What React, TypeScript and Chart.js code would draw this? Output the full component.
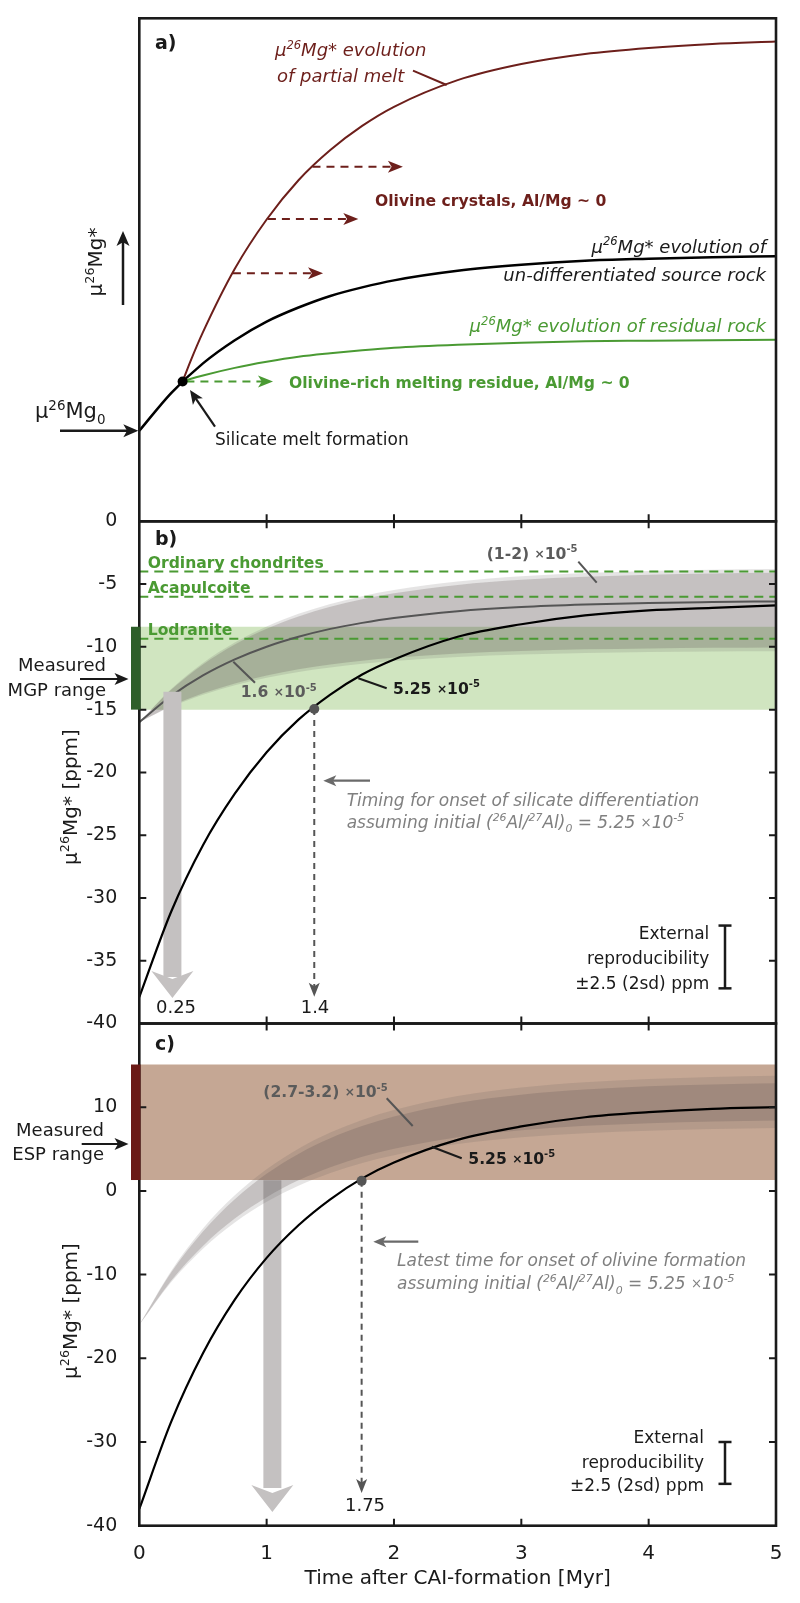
import React, { useEffect, useRef } from 'react';
import { Chart, registerables } from 'chart.js';
Chart.register(...registerables);

const FONT = '"DejaVu Sans", sans-serif';
const INK = '#1a1a1a';
const RED = '#6d1f1b';
const GREEN = '#4a9a33';
const DKGREEN = '#2e5f29';
const LTGREEN = '#d0e5c0';
const BROWN = '#c5a794';
const DKRED = '#6b1a16';
const DKGRAY = '#555555';
const TXTGRAY = '#5b5b5b';
const ITGRAY = '#808080';
const ARROWGRAY = '#c4c1c1';
const BAND_IN = 'rgba(95,85,85,0.24)';
const BAND_OUT = 'rgba(95,85,85,0.16)';

// ---------------- data ----------------
const X_TICK_VALUES = [1, 2, 3, 4];

// panel a (schematic units)
const A_T_SOURCE = [0, 0.25, 0.5, 0.75, 1, 1.25, 1.5, 1.75, 2, 2.5, 3, 3.5, 4, 4.5, 5];
const A_SOURCE = [18.0, 25.5, 31.4, 36.0, 39.7, 42.5, 44.8, 46.5, 47.9, 49.8, 51.0, 51.8, 52.2, 52.5, 52.7];
const A_T_SPLIT = [0.34, 0.4, 0.5, 0.75, 1, 1.25, 1.5, 1.75, 2, 2.5, 3, 3.5, 4, 4.5, 5];
const A_MELT = [27.8, 31.7, 37.6, 50.2, 60.0, 67.8, 73.8, 78.6, 82.4, 87.7, 90.9, 92.9, 94.1, 94.9, 95.4];
const A_RESIDUE = [27.8, 28.3, 29.0, 30.5, 31.7, 32.7, 33.4, 34.0, 34.5, 35.1, 35.5, 35.8, 35.9, 36.0, 36.1];
const A_SPLIT_POINT = [0.34, 27.8];
const A_OLIVINE_T0 = [1.36, 1.01, 0.735];
const A_OLIVINE_T1 = [2.07, 1.72, 1.443];
const A_OLIVINE_Y = [70.5, 60.1, 49.3];
const A_RESIDUE_ARROW = [0.37, 1.05, 27.8];
const A_MU0 = 18.0;

// panel b
const T_B = [0, 0.25, 0.5, 0.75, 1, 1.25, 1.5, 1.75, 2, 2.5, 3, 3.5, 4, 4.5, 5];
const B_525 = [-37.9, -31.1, -25.8, -21.7, -18.4, -15.8, -13.8, -12.2, -11.0, -9.2, -8.2, -7.5, -7.1, -6.9, -6.7];
const B_16 = [-16, -13.92, -12.28, -11.0, -9.99, -9.2, -8.57, -8.09, -7.7, -7.16, -6.83, -6.63, -6.5, -6.43, -6.38];
const B_LO = [-16, -14.71, -13.7, -12.91, -12.28, -11.79, -11.41, -11.1, -10.87, -10.53, -10.33, -10.2, -10.13, -10.08, -10.05];
const B_HI = [-16, -13.42, -11.4, -9.81, -8.56, -7.58, -6.81, -6.21, -5.74, -5.07, -4.66, -4.41, -4.25, -4.15, -4.1];
const B_LO_OUT = [-16, -14.78, -13.81, -13.06, -12.47, -12.0, -11.64, -11.35, -11.12, -10.81, -10.61, -10.49, -10.42, -10.37, -10.35];
const B_HI_OUT = [-16, -13.36, -11.28, -9.66, -8.38, -7.37, -6.58, -5.96, -5.48, -4.8, -4.38, -4.12, -3.96, -3.86, -3.8];
const B_MGP_RANGE = [-15, -8.4];
const B_REF_NAMES = ['Ordinary chondrites', 'Acapulcoite', 'Lodranite'];
const B_REF_VALUES = [-4, -6, -9.35];
const B_ONSET = [1.374, -14.95, -37.87];
const B_EARLY = [0.26, -13.57, -36.3, -37.97];
const B_REPRO = [-34.7, 2.5];
const B_Y_TICKS = [-5, -10, -15, -20, -25, -30, -35];

// panel c
const T_C = [0, 0.25, 0.5, 0.75, 1, 1.25, 1.5, 1.75, 2, 2.5, 3, 3.5, 4, 4.5, 5];
const C_525 = [-38.0, -27.6, -19.4, -13.0, -8.0, -4.1, -1.0, 1.5, 3.4, 6.1, 7.7, 8.8, 9.4, 9.8, 10.0];
const C_LO = [-16, -10.72, -6.57, -3.31, -0.75, 1.26, 2.83, 4.07, 5.04, 6.41, 7.25, 7.77, 8.09, 8.28, 8.4];
const C_HI = [-16, -9.75, -4.84, -0.99, 2.04, 4.41, 6.28, 7.74, 8.89, 10.51, 11.5, 12.11, 12.49, 12.72, 12.87];
const C_LO_OUT = [-16, -10.91, -6.91, -3.78, -1.31, 0.63, 2.14, 3.34, 4.27, 5.59, 6.4, 6.9, 7.2, 7.39, 7.51];
const C_HI_OUT = [-16, -9.56, -4.5, -0.53, 2.59, 5.05, 6.97, 8.48, 9.66, 11.33, 12.35, 12.98, 13.37, 13.61, 13.76];
const C_ESP_RANGE = [1.3, 15.1];
const C_ONSET = [1.746, 1.2, -36.1];
const C_EARLY = [1.045, 1.28, -35.5, -38.35];
const C_REPRO = [-32.5, 2.5];
const C_Y_TICKS = [10, 0, -10, -20, -30];

// ---------------- helpers ----------------
type Seg = { t: string; k: 'n' | 'sup' | 'sub' | 'x' };
function parseRich(s: string): Seg[] {
  const out: Seg[] = [];
  const re = /\^\{([^}]*)\}|_\{([^}]*)\}|(×)/g;
  let last = 0;
  let m: RegExpExecArray | null;
  while ((m = re.exec(s))) {
    if (m.index > last) out.push({ t: s.slice(last, m.index), k: 'n' });
    if (m[1] !== undefined) out.push({ t: m[1], k: 'sup' });
    else if (m[2] !== undefined) out.push({ t: m[2], k: 'sub' });
    else out.push({ t: '×', k: 'x' });
    last = re.lastIndex;
  }
  if (last < s.length) out.push({ t: s.slice(last), k: 'n' });
  return out;
}
function fnt(size: number, weight: string, italic: boolean) {
  return `${italic ? 'italic ' : ''}${weight} ${size}px ${FONT}`;
}
type TOpt = { size: number; weight?: string; italic?: boolean; color?: string; align?: 'left' | 'right' | 'center'; rot?: number };
function text(ctx: CanvasRenderingContext2D, s: string, x: number, y: number, o: TOpt) {
  const segs = parseRich(s);
  const w = o.weight || 'normal';
  const it = !!o.italic;
  const sz = (k: string) => (k === 'n' ? o.size : k === 'x' ? o.size * 0.78 : o.size * 0.64);
  const dy = (k: string) => (k === 'sup' ? -o.size * 0.42 : k === 'sub' ? o.size * 0.26 : k === 'x' ? -o.size * 0.06 : 0);
  ctx.save();
  ctx.translate(x, y);
  if (o.rot) ctx.rotate(o.rot);
  let total = 0;
  const widths = segs.map((sg) => {
    ctx.font = fnt(sz(sg.k), w, it);
    const ww = ctx.measureText(sg.t).width;
    total += ww;
    return ww;
  });
  const align = o.align || 'left';
  let cx = align === 'left' ? 0 : align === 'right' ? -total : -total / 2;
  ctx.fillStyle = o.color || INK;
  ctx.textAlign = 'left';
  ctx.textBaseline = 'alphabetic';
  const base = o.size * 0.36;
  segs.forEach((sg, i) => {
    ctx.font = fnt(sz(sg.k), w, it);
    ctx.fillText(sg.t, cx, base + dy(sg.k));
    cx += widths[i];
  });
  ctx.restore();
}
function seg(ctx: CanvasRenderingContext2D, x1: number, y1: number, x2: number, y2: number, color: string, w: number, dash?: number[]) {
  ctx.save();
  ctx.strokeStyle = color;
  ctx.lineWidth = w;
  if (dash) ctx.setLineDash(dash);
  ctx.beginPath();
  ctx.moveTo(x1, y1);
  ctx.lineTo(x2, y2);
  ctx.stroke();
  ctx.restore();
}
function head(ctx: CanvasRenderingContext2D, x: number, y: number, ang: number, len: number, hw: number, color: string, notch = 0.25) {
  ctx.save();
  ctx.translate(x, y);
  ctx.rotate(ang);
  ctx.beginPath();
  ctx.moveTo(0, 0);
  ctx.lineTo(-len, -hw);
  ctx.lineTo(-len * (1 - notch), 0);
  ctx.lineTo(-len, hw);
  ctx.closePath();
  ctx.fillStyle = color;
  ctx.fill();
  ctx.restore();
}
function arrow(ctx: CanvasRenderingContext2D, x1: number, y1: number, x2: number, y2: number, color: string, w: number, len: number, hw: number) {
  const ang = Math.atan2(y2 - y1, x2 - x1);
  const bx = x2 - Math.cos(ang) * len * 0.7;
  const by = y2 - Math.sin(ang) * len * 0.7;
  seg(ctx, x1, y1, bx, by, color, w);
  head(ctx, x2, y2, ang, len, hw, color);
}
function frameTicks(chart: any, sides: string, yTicks: number[]) {
  const { ctx, chartArea: a } = chart;
  const X = chart.scales.x;
  const Y = chart.scales.y;
  const L = 7;
  ctx.save();
  ctx.strokeStyle = INK;
  ctx.lineWidth = 2;
  ctx.beginPath();
  X_TICK_VALUES.forEach((t) => {
    const p = X.getPixelForValue(t);
    if (sides.includes('b')) { ctx.moveTo(p, a.bottom); ctx.lineTo(p, a.bottom - L); }
    if (sides.includes('t')) { ctx.moveTo(p, a.top); ctx.lineTo(p, a.top + L); }
  });
  yTicks.forEach((v) => {
    const p = Y.getPixelForValue(v);
    if (sides.includes('l')) { ctx.moveTo(a.left, p); ctx.lineTo(a.left + L, p); }
    if (sides.includes('r')) { ctx.moveTo(a.right, p); ctx.lineTo(a.right - L, p); }
  });
  ctx.stroke();
  ctx.lineWidth = 2.6;
  ctx.strokeRect(a.left, a.top, a.right - a.left, a.bottom - a.top);
  ctx.restore();
}
function errBar(chart: any, xPix: number, center: number, half: number) {
  const { ctx } = chart;
  const Y = chart.scales.y;
  const y1 = Y.getPixelForValue(center + half);
  const y2 = Y.getPixelForValue(center - half);
  seg(ctx, xPix, y1, xPix, y2, INK, 2.5);
  seg(ctx, xPix - 6.5, y1, xPix + 6.5, y1, INK, 2.5);
  seg(ctx, xPix - 6.5, y2, xPix + 6.5, y2, INK, 2.5);
}

const pts = (ts: number[], vs: number[]) => ts.map((t, i) => ({ x: t, y: vs[i] }));
function curve(ts: number[], vs: number[], color: string, width: number, extra: any = {}) {
  return {
    data: pts(ts, vs),
    borderColor: color,
    borderWidth: width,
    pointRadius: 0,
    fill: false,
    cubicInterpolationMode: 'monotone',
    ...extra,
  };
}
function bandPair(ts: number[], hi: number[], lo: number[], color: string) {
  return [
    { data: pts(ts, hi), borderWidth: 0, pointRadius: 0, fill: '+1', backgroundColor: color, cubicInterpolationMode: 'monotone' },
    { data: pts(ts, lo), borderWidth: 0, pointRadius: 0, fill: false, cubicInterpolationMode: 'monotone' },
  ];
}
function hLine(v: number, color: string, width: number, dash?: number[], fillTo?: number, bg?: string) {
  return {
    data: [{ x: 0, y: v }, { x: 5, y: v }],
    borderColor: color,
    borderWidth: width,
    borderDash: dash || [],
    pointRadius: 0,
    fill: fillTo === undefined ? false : { value: fillTo },
    backgroundColor: bg,
  };
}
function vShaft(t: number, v1: number, v2: number, color: string, width: number, dash?: number[]) {
  return { data: [{ x: t, y: v1 }, { x: t, y: v2 }], borderColor: color, borderWidth: width, borderDash: dash || [], pointRadius: 0, fill: false };
}

function makeConfig(datasets: any[], yMin: number, yMax: number, padTop: number, padBottom: number, plugin: any, yTicks: any, bottom: boolean) {
  return {
    type: 'line',
    data: { datasets },
    options: {
      responsive: false,
      animation: false,
      devicePixelRatio: 1,
      events: [],
      layout: { padding: { left: 0, right: 24, top: padTop, bottom: padBottom } },
      plugins: { legend: { display: false }, tooltip: { enabled: false } },
      scales: {
        x: {
          type: 'linear',
          min: 0,
          max: 5,
          grid: { display: false },
          border: { display: false },
          ticks: bottom
            ? { display: true, stepSize: 1, maxRotation: 0, color: INK, font: { family: FONT, size: 20 }, padding: 8 }
            : { display: false },
          title: bottom
            ? { display: true, text: 'Time after CAI-formation [Myr]', color: INK, font: { family: FONT, size: 20 }, padding: { top: 0, bottom: 12 } }
            : { display: false },
          afterFit: (s: any) => { s.height = bottom ? 77.3 : 0; },
        },
        y: {
          type: 'linear',
          min: yMin,
          max: yMax,
          grid: { display: false },
          border: { display: false },
          ticks: yTicks,
          afterFit: (s: any) => { s.width = 139.3; },
        },
      },
    },
    plugins: [plugin],
  };
}

// ---------------- panel a ----------------
function configA() {
  const datasets: any[] = [
    { data: [{ x: A_SPLIT_POINT[0], y: A_SPLIT_POINT[1] }], pointRadius: 5, pointBackgroundColor: '#000', pointBorderWidth: 0, showLine: false },
    ...A_OLIVINE_T0.map((t0, i) => ({
      data: [{ x: t0, y: A_OLIVINE_Y[i] }, { x: A_OLIVINE_T1[i] - 0.06, y: A_OLIVINE_Y[i] }],
      borderColor: RED, borderWidth: 2, borderDash: [8, 6], pointRadius: 0, fill: false,
    })),
    {
      data: [{ x: A_RESIDUE_ARROW[0], y: A_RESIDUE_ARROW[2] }, { x: A_RESIDUE_ARROW[1] - 0.06, y: A_RESIDUE_ARROW[2] }],
      borderColor: GREEN, borderWidth: 2, borderDash: [8, 6], pointRadius: 0, fill: false,
    },
    curve(A_T_SPLIT, A_MELT, RED, 2),
    curve(A_T_SPLIT, A_RESIDUE, GREEN, 2),
    curve(A_T_SOURCE, A_SOURCE, '#000', 2.5),
  ];
  const plugin = {
    id: 'annA',
    afterDatasetsDraw(chart: any) {
      const { ctx } = chart;
      const X = chart.scales.x;
      const Y = chart.scales.y;
      frameTicks(chart, 'b', []);
      A_OLIVINE_T1.forEach((t, i) => head(ctx, X.getPixelForValue(t), Y.getPixelForValue(A_OLIVINE_Y[i]), 0, 15, 6, RED));
      head(ctx, X.getPixelForValue(A_RESIDUE_ARROW[1]), Y.getPixelForValue(A_RESIDUE_ARROW[2]), 0, 15, 6, GREEN);
      text(ctx, 'a)', 155, 42, { size: 19, weight: 'bold' });
      text(ctx, 'μ^{26}Mg* evolution', 275, 50, { size: 18, italic: true, color: RED });
      text(ctx, 'of partial melt', 277, 76, { size: 18, italic: true, color: RED });
      seg(ctx, 413, 70.7, 446.7, 85, RED, 2);
      text(ctx, 'Olivine crystals, Al/Mg ~ 0', 375, 200, { size: 15.6, weight: 'bold', color: RED });
      text(ctx, 'μ^{26}Mg* evolution of', 766, 246.5, { size: 18, italic: true, align: 'right' });
      text(ctx, 'un-differentiated source rock', 766, 275, { size: 18, italic: true, align: 'right' });
      text(ctx, 'μ^{26}Mg* evolution of residual rock', 766, 326, { size: 18, italic: true, color: GREEN, align: 'right' });
      text(ctx, 'Olivine-rich melting residue, Al/Mg ~ 0', 289, 382.5, { size: 15.6, weight: 'bold', color: GREEN });
      arrow(ctx, 215, 426.7, 190, 390, INK, 2.2, 14, 6);
      text(ctx, 'Silicate melt formation', 215, 438.7, { size: 17 });
      text(ctx, 'μ^{26}Mg_{0}', 35, 410.8, { size: 21 });
      const y0 = Y.getPixelForValue(A_MU0);
      arrow(ctx, 60, y0, X.getPixelForValue(0) - 1, y0, INK, 2.5, 15, 6.5);
      text(ctx, 'μ^{26}Mg*', 95, 262, { size: 20, rot: -Math.PI / 2, align: 'center' });
      arrow(ctx, 123, 305, 123, 231, INK, 2.5, 15, 6.5);
    },
  };
  return makeConfig(datasets, 0, 100, 18.3, 1603 - 521.3, plugin, { display: false }, false);
}

// ---------------- panel b ----------------
function configB() {
  const datasets: any[] = [
    { data: [{ x: B_ONSET[0], y: B_ONSET[1] }], pointRadius: 5, pointBackgroundColor: DKGRAY, pointBorderWidth: 0, showLine: false },
    vShaft(B_ONSET[0], B_ONSET[1], B_ONSET[2] + 0.6, DKGRAY, 2, [6, 5]),
    curve(T_B, B_525, '#000', 2.2),
    vShaft(B_EARLY[0], B_EARLY[1], B_EARLY[2], ARROWGRAY, 18),
    curve(T_B, B_16, DKGRAY, 2),
    ...B_REF_VALUES.map((v) => hLine(v, GREEN, 2, [9, 6])),
    ...bandPair(T_B, B_HI, B_LO, BAND_IN),
    ...bandPair(T_B, B_HI_OUT, B_LO_OUT, BAND_OUT),
    hLine(B_MGP_RANGE[1], 'rgba(0,0,0,0)', 0, undefined, B_MGP_RANGE[0], LTGREEN),
  ];
  const plugin = {
    id: 'annB',
    afterDatasetsDraw(chart: any) {
      const { ctx } = chart;
      const X = chart.scales.x;
      const Y = chart.scales.y;
      frameTicks(chart, 'tblr', B_Y_TICKS);
      const yTop = Y.getPixelForValue(B_MGP_RANGE[1]);
      const yBot = Y.getPixelForValue(B_MGP_RANGE[0]);
      ctx.fillStyle = DKGREEN;
      ctx.fillRect(131, yTop, 9.5, yBot - yTop);
      text(ctx, 'Measured', 106, 665, { size: 18, align: 'right' });
      text(ctx, 'MGP range', 106, 689.3, { size: 18, align: 'right' });
      arrow(ctx, 80, 679, 128.5, 679, INK, 2.2, 14, 6);
      text(ctx, 'b)', 155, 538, { size: 19, weight: 'bold' });
      B_REF_NAMES.forEach((n, i) => {
        text(ctx, n, 147.7, Y.getPixelForValue(B_REF_VALUES[i]) - 9.5, { size: 15.6, weight: 'bold', color: GREEN });
      });
      head(ctx, X.getPixelForValue(B_ONSET[0]), Y.getPixelForValue(B_ONSET[2]), Math.PI / 2, 14, 5.5, DKGRAY);
      head(ctx, X.getPixelForValue(B_EARLY[0]), Y.getPixelForValue(B_EARLY[3]), Math.PI / 2, 27, 21, ARROWGRAY, 0.3);
      text(ctx, '0.25', 176, 1006.7, { size: 18, align: 'center' });
      text(ctx, '1.4', 315, 1006.7, { size: 18, align: 'center' });
      text(ctx, '1.6 ×10^{-5}', 240.7, 691.7, { size: 15.6, weight: 'bold', color: TXTGRAY });
      seg(ctx, 233.3, 661.7, 255, 682.7, DKGRAY, 2);
      text(ctx, '5.25 ×10^{-5}', 393, 688, { size: 15.6, weight: 'bold' });
      seg(ctx, 358.3, 678.3, 386.7, 688.3, INK, 2);
      text(ctx, '(1-2) ×10^{-5}', 486.7, 553, { size: 15.6, weight: 'bold', color: TXTGRAY });
      seg(ctx, 578.3, 561.7, 596.7, 582.7, DKGRAY, 2);
      text(ctx, 'Timing for onset of silicate differentiation', 346.7, 800, { size: 17, italic: true, color: ITGRAY });
      text(ctx, 'assuming initial (^{26}Al/^{27}Al)_{0} = 5.25 ×10^{-5}', 346.7, 821.7, { size: 17, italic: true, color: ITGRAY });
      arrow(ctx, 370, 780.7, 323.3, 780.7, '#6a6a6a', 2.2, 13, 5.5);
      text(ctx, 'External', 709.3, 933.3, { size: 17, align: 'right' });
      text(ctx, 'reproducibility', 709.3, 958.3, { size: 17, align: 'right' });
      text(ctx, '±2.5 (2sd) ppm', 709.3, 983.3, { size: 17, align: 'right' });
      errBar(chart, 725, B_REPRO[0], B_REPRO[1]);
      text(ctx, 'μ^{26}Mg* [ppm]', 70, 797, { size: 20, rot: -Math.PI / 2, align: 'center' });
    },
  };
  return makeConfig(datasets, -40, 0, 521.3, 1603 - 1023.5, plugin,
    { display: true, stepSize: 5, color: INK, font: { family: FONT, size: 19 }, padding: 14 }, false);
}

// ---------------- panel c ----------------
function configC() {
  const datasets: any[] = [
    { data: [{ x: C_ONSET[0], y: C_ONSET[1] }], pointRadius: 5, pointBackgroundColor: DKGRAY, pointBorderWidth: 0, showLine: false },
    vShaft(C_ONSET[0], C_ONSET[1], C_ONSET[2] + 0.9, DKGRAY, 2, [6, 5]),
    curve(T_C, C_525, '#000', 2.2),
    ...bandPair(T_C, C_HI, C_LO, BAND_IN),
    ...bandPair(T_C, C_HI_OUT, C_LO_OUT, BAND_OUT),
    vShaft(C_EARLY[0], C_EARLY[1], C_EARLY[2], ARROWGRAY, 18),
    hLine(C_ESP_RANGE[1], 'rgba(0,0,0,0)', 0, undefined, C_ESP_RANGE[0], BROWN),
  ];
  const plugin = {
    id: 'annC',
    afterDatasetsDraw(chart: any) {
      const { ctx } = chart;
      const X = chart.scales.x;
      const Y = chart.scales.y;
      frameTicks(chart, 'tblr', C_Y_TICKS);
      const yTop = Y.getPixelForValue(C_ESP_RANGE[1]);
      const yBot = Y.getPixelForValue(C_ESP_RANGE[0]);
      ctx.fillStyle = DKRED;
      ctx.fillRect(131, yTop, 9.5, yBot - yTop);
      text(ctx, 'Measured', 104, 1130, { size: 18, align: 'right' });
      text(ctx, 'ESP range', 104, 1153.3, { size: 18, align: 'right' });
      arrow(ctx, 81.7, 1144, 128.5, 1144, INK, 2.2, 14, 6);
      text(ctx, 'c)', 155, 1043.3, { size: 19, weight: 'bold' });
      head(ctx, X.getPixelForValue(C_ONSET[0]), Y.getPixelForValue(C_ONSET[2]), Math.PI / 2, 14, 5.5, DKGRAY);
      head(ctx, X.getPixelForValue(C_EARLY[0]), Y.getPixelForValue(C_EARLY[3]), Math.PI / 2, 27, 21, ARROWGRAY, 0.3);
      text(ctx, '1.75', 365, 1505, { size: 18, align: 'center' });
      text(ctx, '(2.7-3.2) ×10^{-5}', 263.3, 1091.7, { size: 15.6, weight: 'bold', color: TXTGRAY });
      seg(ctx, 386.7, 1098.3, 412.7, 1126, DKGRAY, 2);
      text(ctx, '5.25 ×10^{-5}', 468.3, 1158.3, { size: 15.6, weight: 'bold' });
      seg(ctx, 431.7, 1146.7, 461.7, 1158.3, INK, 2);
      text(ctx, 'Latest time for onset of olivine formation', 397, 1260, { size: 17, italic: true, color: ITGRAY });
      text(ctx, 'assuming initial (^{26}Al/^{27}Al)_{0} = 5.25 ×10^{-5}', 397, 1283.3, { size: 17, italic: true, color: ITGRAY });
      arrow(ctx, 418.3, 1241.7, 373.3, 1241.7, '#6a6a6a', 2.2, 13, 5.5);
      text(ctx, 'External', 704, 1436.7, { size: 17, align: 'right' });
      text(ctx, 'reproducibility', 704, 1461.7, { size: 17, align: 'right' });
      text(ctx, '±2.5 (2sd) ppm', 704, 1485, { size: 17, align: 'right' });
      errBar(chart, 725, C_REPRO[0], C_REPRO[1]);
      text(ctx, 'μ^{26}Mg* [ppm]', 70, 1311, { size: 20, rot: -Math.PI / 2, align: 'center' });
    },
  };
  return makeConfig(datasets, -40, 20, 1023.5, 0, plugin,
    { display: true, stepSize: 10, color: INK, font: { family: FONT, size: 19 }, padding: 14, callback: (v: number) => (v === 20 ? '' : String(v)) }, true);
}

export default function App() {
  const refA = useRef<HTMLCanvasElement>(null);
  const refB = useRef<HTMLCanvasElement>(null);
  const refC = useRef<HTMLCanvasElement>(null);
  useEffect(() => {
    const charts = [
      new Chart(refA.current as HTMLCanvasElement, configA() as any),
      new Chart(refB.current as HTMLCanvasElement, configB() as any),
      new Chart(refC.current as HTMLCanvasElement, configC() as any),
    ];
    return () => charts.forEach((c) => c.destroy());
  }, []);
  const cs: React.CSSProperties = { position: 'absolute', left: 0, top: 0, width: 800, height: 1603 };
  return (
    <div style={{ position: 'absolute', left: 0, top: 0, width: 800, height: 1603, background: '#fff', overflow: 'hidden' }}>
      <canvas ref={refC} width={800} height={1603} style={cs} />
      <canvas ref={refB} width={800} height={1603} style={cs} />
      <canvas ref={refA} width={800} height={1603} style={cs} />
    </div>
  );
}
